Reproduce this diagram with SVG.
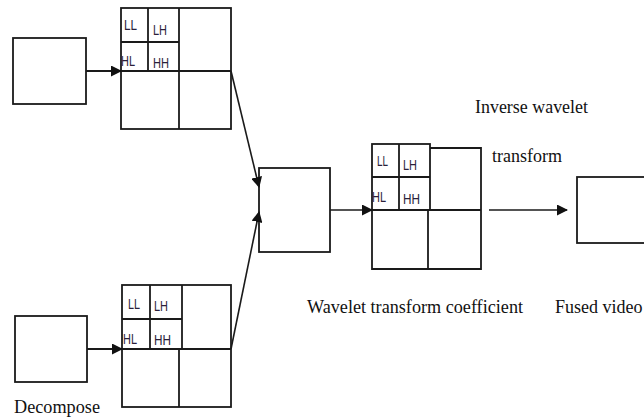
<svg xmlns="http://www.w3.org/2000/svg" width="644" height="419" viewBox="0 0 644 419">
<defs>
<marker id="ah" markerWidth="11" markerHeight="11" refX="10" refY="5.5" orient="auto" markerUnits="userSpaceOnUse">
<path d="M0,0 L11,5.5 L0,11 Z" fill="#111"/>
</marker>
<style>
.b{fill:none;stroke:#1a1a1a;stroke-width:1.8}
.c{fill:none;stroke:#1a1a1a;stroke-width:1.6}
.s{font-family:"Liberation Sans",Arial,sans-serif;font-size:14.5px;fill:#2a1f3a}
.t{font-family:"Liberation Serif","Times New Roman",serif;font-size:19px;fill:#111}
</style>
</defs>
<rect width="644" height="419" fill="#fff"/>
<g id="input1"><rect class="b" x="13" y="38" width="73" height="66"/></g>
<g id="input2"><rect class="b" x="15" y="316" width="72" height="66"/></g>
<g id="grid1">
<rect class="b" x="121" y="8" width="110" height="121"/>
<line class="b" x1="179" y1="8" x2="179" y2="129"/>
<line class="b" x1="121" y1="71" x2="231" y2="71"/>
<line class="b" x1="148" y1="8" x2="148" y2="71"/>
<line class="b" x1="121" y1="42" x2="179" y2="42"/>
<text class="s" x="124" y="30" textLength="13" lengthAdjust="spacingAndGlyphs">LL</text>
<text class="s" x="153" y="35" textLength="14" lengthAdjust="spacingAndGlyphs">LH</text>
<text class="s" x="121" y="66" textLength="14" lengthAdjust="spacingAndGlyphs">HL</text>
<text class="s" x="153" y="68" textLength="16" lengthAdjust="spacingAndGlyphs">HH</text>
</g>
<g id="grid2">
<rect class="b" x="122" y="285" width="109" height="122"/>
<line class="b" x1="179" y1="349" x2="179" y2="407"/>
<line class="b" x1="182" y1="285" x2="182" y2="349"/>
<line class="b" x1="122" y1="349" x2="231" y2="349"/>
<line class="b" x1="150" y1="285" x2="150" y2="349"/>
<line class="b" x1="122" y1="319" x2="182" y2="319"/>
<text class="s" x="128" y="309" textLength="12" lengthAdjust="spacingAndGlyphs">LL</text>
<text class="s" x="154" y="311" textLength="14" lengthAdjust="spacingAndGlyphs">LH</text>
<text class="s" x="123" y="344" textLength="14" lengthAdjust="spacingAndGlyphs">HL</text>
<text class="s" x="154" y="345" textLength="17" lengthAdjust="spacingAndGlyphs">HH</text>
</g>
<g id="fusion"><rect class="b" x="259" y="168" width="71" height="84"/></g>
<g id="grid3">
<rect class="b" x="372" y="144" width="58" height="66"/>
<line class="b" x1="399" y1="144" x2="399" y2="210"/>
<line class="b" x1="372" y1="177" x2="430" y2="177"/>
<polyline class="b" points="430,148 481,148 481,269 372,269 372,210"/>
<line class="b" x1="372" y1="210" x2="481" y2="210"/>
<line class="b" x1="428" y1="210" x2="428" y2="269"/>
<text class="s" x="377" y="166" textLength="11" lengthAdjust="spacingAndGlyphs">LL</text>
<text class="s" x="403" y="170" textLength="14" lengthAdjust="spacingAndGlyphs">LH</text>
<text class="s" x="372" y="202" textLength="14" lengthAdjust="spacingAndGlyphs">HL</text>
<text class="s" x="403" y="204" textLength="17" lengthAdjust="spacingAndGlyphs">HH</text>
</g>
<g id="output"><rect class="b" x="577" y="177" width="80" height="66"/></g>
<g id="connectors">
<line class="b" x1="86" y1="71" x2="121" y2="71" marker-end="url(#ah)"/>
<line class="b" x1="87" y1="349" x2="122" y2="349" marker-end="url(#ah)"/>
<line class="c" x1="231" y1="71" x2="259" y2="187" marker-end="url(#ah)"/>
<line class="c" x1="231" y1="349" x2="259" y2="212" marker-end="url(#ah)"/>
<line class="c" x1="330" y1="210" x2="372" y2="210" marker-end="url(#ah)"/>
<line class="c" x1="489" y1="210" x2="567" y2="210" marker-end="url(#ah)"/>
</g>
<g id="labels">
<text class="t" x="555" y="313" style="font-size:18px">Fused video</text>
<text class="t" x="475" y="113" textLength="113" lengthAdjust="spacingAndGlyphs">Inverse wavelet</text>
<text class="t" x="492" y="162" textLength="70" lengthAdjust="spacingAndGlyphs">transform</text>
<text class="t" x="307" y="313" textLength="216" lengthAdjust="spacingAndGlyphs">Wavelet transform coefficient</text>
<text class="t" x="14" y="413" textLength="86" lengthAdjust="spacingAndGlyphs">Decompose</text>
</g>
</svg>
